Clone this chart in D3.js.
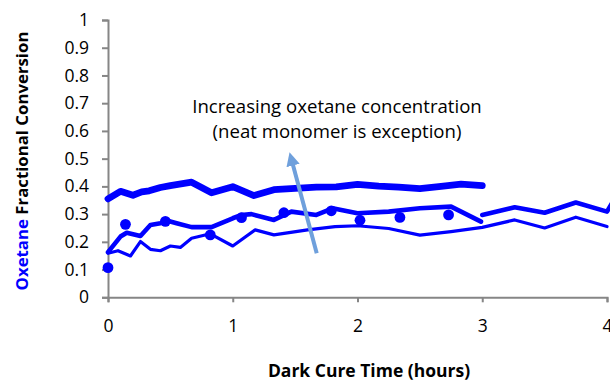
<!DOCTYPE html>
<html>
<head>
<meta charset="utf-8">
<script src="https://cdn.jsdelivr.net/npm/d3@7"></script>
<style>
  body { margin: 0; background: #fff; }
  text { font-family: "Open Sans", sans-serif; fill: #000; }
</style>
</head>
<body>
<svg id="chart"></svg>
<script>
// Section for Data

// top series (thickest line), 0 - 3 h
var thickTime = [0, 0.1, 0.2, 0.27, 0.33, 0.42, 0.5, 0.67, 0.83, 1.0, 1.17, 1.33, 1.5, 1.67, 1.83, 2.0, 2.17, 2.33, 2.5, 2.67, 2.83, 3.0];
var thickConv = [0.355, 0.382, 0.368, 0.38, 0.384, 0.396, 0.403, 0.415, 0.377, 0.399, 0.367, 0.388, 0.393, 0.397, 0.398, 0.407, 0.401, 0.397, 0.392, 0.4, 0.408, 0.403];

// middle series (medium line), 0 - 3 h
var midTime = [0, 0.1, 0.15, 0.26, 0.34, 0.42, 0.47, 0.55, 0.67, 0.83, 1.0, 1.07, 1.15, 1.33, 1.47, 1.67, 1.8, 2.0, 2.25, 2.5, 2.75, 2.99];
var midConv = [0.163, 0.219, 0.233, 0.221, 0.261, 0.267, 0.277, 0.267, 0.253, 0.253, 0.285, 0.297, 0.3, 0.279, 0.309, 0.297, 0.321, 0.303, 0.309, 0.321, 0.327, 0.273];

// second run of the middle series, 3 h onwards
var mid2Time = [3.0, 3.26, 3.5, 3.75, 4.0, 4.08];
var mid2Conv = [0.297, 0.325, 0.305, 0.342, 0.309, 0.37];

// lowest series (thin line), 0 - 4 h
var thinTime = [0, 0.08, 0.18, 0.26, 0.34, 0.42, 0.5, 0.58, 0.67, 0.82, 1.0, 1.18, 1.33, 1.6, 1.82, 2.0, 2.25, 2.5, 2.75, 3.0, 3.26, 3.5, 3.75, 4.0];
var thinConv = [0.159, 0.168, 0.149, 0.201, 0.173, 0.168, 0.185, 0.18, 0.213, 0.229, 0.185, 0.243, 0.225, 0.243, 0.255, 0.258, 0.248, 0.224, 0.237, 0.252, 0.279, 0.25, 0.289, 0.255];

// scatter points (markers only)
var dotTime = [0, 0.14, 0.46, 0.82, 1.07, 1.41, 1.79, 2.02, 2.34, 2.73];
var dotConv = [0.107, 0.263, 0.274, 0.225, 0.287, 0.305, 0.312, 0.278, 0.288, 0.297];

var xTicks = [0, 1, 2, 3, 4];
var yTicks = [0, 0.1, 0.2, 0.3, 0.4, 0.5, 0.6, 0.7, 0.8, 0.9, 1];

// Section for Chart

var width = 610, height = 383;
var blue = "#0000ff";
var axisGrey = "#868686";

var svg = d3.select("#chart")
    .attr("width", width)
    .attr("height", height);

var x = d3.scaleLinear().domain([0, 4]).range([108, 607]);
var y = d3.scaleLinear().domain([0, 1]).range([297.3, 20]);

// clip so lines stop at the plot edge
svg.append("defs").append("clipPath")
    .attr("id", "plotClip")
    .append("rect")
    .attr("x", 100).attr("y", 0)
    .attr("width", 510).attr("height", 300);

// arrow head for the annotation
svg.select("defs").append("marker")
    .attr("id", "head")
    .attr("viewBox", "0 0 10 10")
    .attr("refX", 2).attr("refY", 5)
    .attr("markerWidth", 3.4).attr("markerHeight", 3.4)
    .attr("orient", "auto")
    .append("path")
    .attr("d", "M0,0 L10,5 L0,10 Z")
    .attr("fill", "#6fa0dc");

// axes
var xAxis = svg.append("g")
    .attr("transform", "translate(0," + y(0) + ")")
    .call(d3.axisBottom(x).tickValues(xTicks).tickSize(5).tickPadding(17).tickFormat(d3.format("d")));

var yAxis = svg.append("g")
    .attr("transform", "translate(" + x(0) + ",0)")
    .call(d3.axisLeft(y).tickValues(yTicks).tickSize(6).tickPadding(13).tickFormat(function (d) { return d3.format("")(+d.toFixed(1)); }));

[xAxis, yAxis].forEach(function (g) {
    g.select(".domain").attr("stroke", axisGrey).attr("stroke-width", 2);
    g.selectAll(".tick line").attr("stroke", axisGrey).attr("stroke-width", 2);
    g.selectAll(".tick text")
        .attr("font-family", "Open Sans, sans-serif")
        .attr("font-size", 17.5)
        .attr("fill", "#000");
});

// lines
var plot = svg.append("g").attr("clip-path", "url(#plotClip)");

var line = d3.line()
    .x(function (d) { return x(d[0]); })
    .y(function (d) { return y(d[1]); });

function drawSeries(times, convs, w) {
    plot.append("path")
        .datum(d3.zip(times, convs))
        .attr("d", line)
        .attr("fill", "none")
        .attr("stroke", blue)
        .attr("stroke-width", w)
        .attr("stroke-linejoin", "round")
        .attr("stroke-linecap", "round");
}

drawSeries(thinTime, thinConv, 3.2);
drawSeries(midTime, midConv, 4.6);
drawSeries(mid2Time, mid2Conv, 4.6);
drawSeries(thickTime, thickConv, 6.8);

// markers
plot.selectAll("circle.dot")
    .data(d3.zip(dotTime, dotConv))
    .enter().append("circle")
    .attr("class", "dot")
    .attr("cx", function (d) { return x(d[0]); })
    .attr("cy", function (d) { return y(d[1]); })
    .attr("r", 5.4)
    .attr("fill", blue);

// annotation arrow
svg.append("line")
    .attr("x1", x(1.673)).attr("y1", y(0.159))
    .attr("x2", x(1.478)).attr("y2", y(0.485))
    .attr("stroke", "#6fa0dc")
    .attr("stroke-width", 4)
    .attr("marker-end", "url(#head)");

svg.append("text")
    .attr("x", 337).attr("y", 113)
    .attr("text-anchor", "middle")
    .attr("font-size", 18.6)
    .attr("fill", "#262626")
    .text("Increasing oxetane concentration");

svg.append("text")
    .attr("x", 337).attr("y", 138)
    .attr("text-anchor", "middle")
    .attr("font-size", 18.6)
    .attr("fill", "#262626")
    .text("(neat monomer is exception)");

// axis titles
svg.append("text")
    .attr("x", 369).attr("y", 377)
    .attr("text-anchor", "middle")
    .attr("font-size", 17.5)
    .attr("font-weight", "bold")
    .text("Dark Cure Time (hours)");

var yTitle = svg.append("text")
    .attr("transform", "translate(28,161) rotate(-90)")
    .attr("text-anchor", "middle")
    .attr("font-size", 16.8)
    .attr("font-weight", "bold");
yTitle.append("tspan").attr("fill", blue).style("fill", blue).text("Oxetane");
yTitle.append("tspan").text(" Fractional Conversion");
</script>
</body>
</html>
